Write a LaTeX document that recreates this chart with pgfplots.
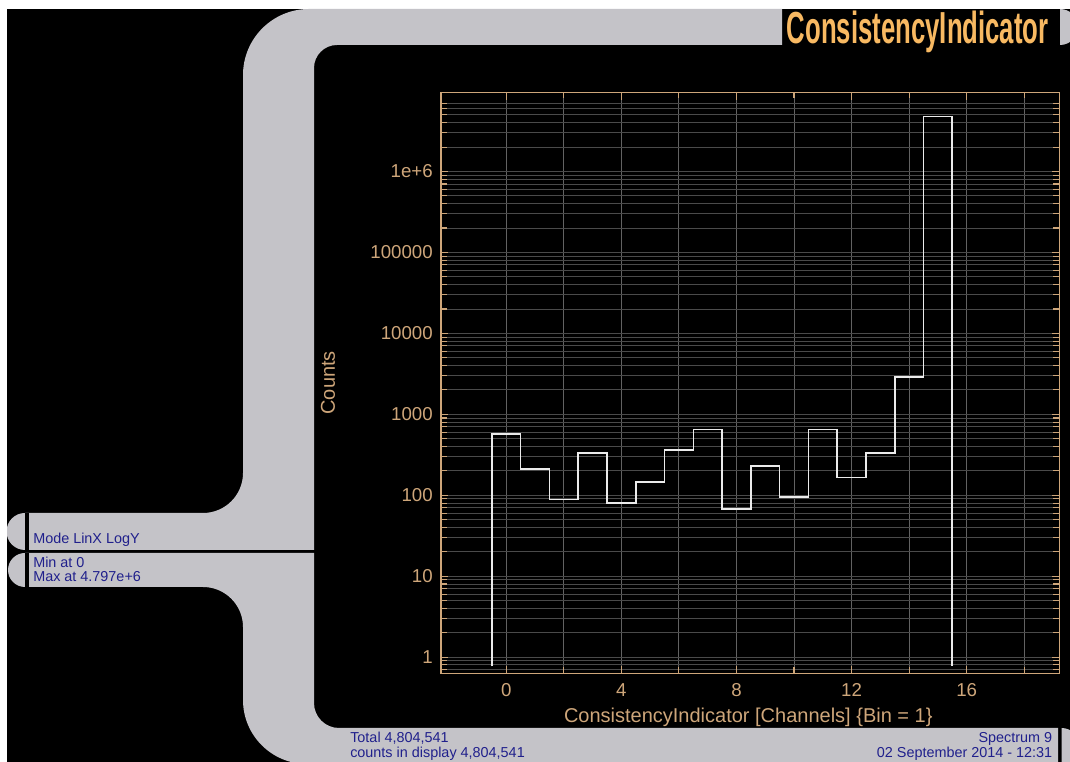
\documentclass[border=0pt]{standalone}
\usepackage{graphicx}
\usepackage{fontspec}
\setmainfont{Liberation Sans}
\usepackage{pgfplots}
\pgfplotsset{compat=1.18}
\definecolor{lgrey}{RGB}{196,195,200}
\definecolor{axtan}{RGB}{206,166,122}
\definecolor{ttl}{RGB}{248,185,98}
\definecolor{blu}{RGB}{32,32,140}
\definecolor{gridv}{RGB}{98,98,98}
\definecolor{gridh}{RGB}{74,74,74}
\definecolor{hist}{RGB}{235,235,235}
\begin{document}
\begin{tikzpicture}
\useasboundingbox (0,0) rectangle (802.5pt,571.5pt);
\begin{scope}[shift={(0,571.5pt)}, x=0.75pt, y=-0.75pt]
\fill[white] (0,0) rectangle (1070,762);
\fill[black] (7,9) rectangle (1070,762);
\begin{scope}
\clip (7,9) rectangle (1070,762);
% upper frame piece
\fill[lgrey] (25,513) -- (203,513) arc[start angle=90, end angle=0, radius=40]
  -- (243,75) arc[start angle=180, end angle=270, radius=66]
  -- (782,9) -- (782,45) -- (337,45) arc[start angle=270, end angle=180, radius=23]
  -- (314,550) -- (25,550) arc[start angle=90, end angle=270, radius=18.5] -- cycle;
\fill[black] (25,513) rectangle (29,550);
% lower frame piece
\fill[lgrey] (25,553) -- (314,553) -- (314,703) arc[start angle=180, end angle=90, radius=25]
  -- (1058,728) -- (1058,764) -- (307,764) arc[start angle=90, end angle=180, radius=64]
  -- (243,627) arc[start angle=0, end angle=-90, radius=40]
  -- (25,587) arc[start angle=90, end angle=270, radius=17] -- cycle;
\fill[black] (25,553) rectangle (29,587);
% right caps
\fill[lgrey] (1060,45) -- (1060,9) arc[start angle=270, end angle=450, radius=18] -- cycle;
\fill[lgrey] (1061.5,764) -- (1061.5,728) arc[start angle=270, end angle=450, radius=18] -- cycle;
\end{scope}
% title
\node[anchor=base west, inner sep=0pt, text=ttl] at (786.7,43.3)
  {\resizebox{196.2pt}{24.4pt}{\bfseries ConsistencyIndicator}};
% blue info texts
\begin{scope}[every node/.style={inner sep=0pt, text=blu, font=\fontsize{10.8}{12}\selectfont}]
\node[anchor=base west] at (33,543.5) {Mode LinX LogY};
\node[anchor=base west] at (33,567.5) {Min at 0};
\node[anchor=base west] at (33,581.5) {Max at 4.797e+6};
\node[anchor=base west] at (350,742.5) {Total 4,804,541};
\node[anchor=base west] at (350,758) {counts in display 4,804,541};
\node[anchor=base east] at (1052.5,742.5) {Spectrum 9};
\node[anchor=base east] at (1052.5,758) {02 September 2014 - 12:31};
\end{scope}
\end{scope}

\begin{axis}[
  at={(330.75pt,66.5pt)}, anchor=south west,
  scale only axis, width=463.7pt, height=435.75pt,
  ymode=log,
  xmin=-2.27, xmax=19.22, ymin=0.63, ymax=9.5e6,
  axis line style={axtan, line width=0.9pt},
  tick style={axtan, line width=0.8pt},
  major tick length=5.5pt, minor tick length=4.5pt,
  tick align=inside, tick pos=both,
  xtick={0,4,8,12,16}, xticklabels={0,4,8,12,16},
  minor xtick={2,6,10,14,18},
  ytick={1,10,100,1000,10000,100000,1000000},
  yticklabels={1,10,100,1000,10000,100000,1e+6},
  minor ytick={0.7,0.8,0.9,2,3,4,5,6,7,8,9,20,30,40,50,60,70,80,90,
    200,300,400,500,600,700,800,900,2000,3000,4000,5000,6000,7000,8000,9000,
    20000,30000,40000,50000,60000,70000,80000,90000,
    200000,300000,400000,500000,600000,700000,800000,900000,
    2000000,3000000,4000000,5000000,6000000,7000000},
  xmajorgrids, xminorgrids, ymajorgrids, yminorgrids,
  x grid style={gridv, line width=0.7pt},
  y grid style={gridh, line width=0.7pt},
  tick label style={text=axtan, font=\fontsize{14}{16}\selectfont},
  xticklabel style={anchor=north, inner sep=0pt, yshift=-7.3pt},
  yticklabel style={anchor=east, inner sep=0pt, xshift=-6pt},
  xlabel={ConsistencyIndicator [Channels] \{Bin = 1\}},
  xlabel style={at={(axis description cs:0.497,-0.0838)}, anchor=base, inner sep=0pt,
    text=axtan, font=\fontsize{15}{18}\selectfont},
  ylabel={Counts},
  ylabel style={at={(axis description cs:-0.1828,0.5)}, anchor=center, inner sep=0pt,
    text=axtan, font=\fontsize{15}{18}\selectfont},
]
\addplot[const plot mark left, mark=none, draw=hist, line width=1.2pt] coordinates {
 (-0.5,0.77) (-0.5,570) (0.5,210) (1.5,89) (2.5,330) (3.5,80) (4.5,146) (5.5,363)
 (6.5,646) (7.5,68) (8.5,230) (9.5,95) (10.5,646) (11.5,165) (12.5,330)
 (13.5,2900) (14.5,4797000) (15.5,0.77)
};
\end{axis}
\end{tikzpicture}
\end{document}
